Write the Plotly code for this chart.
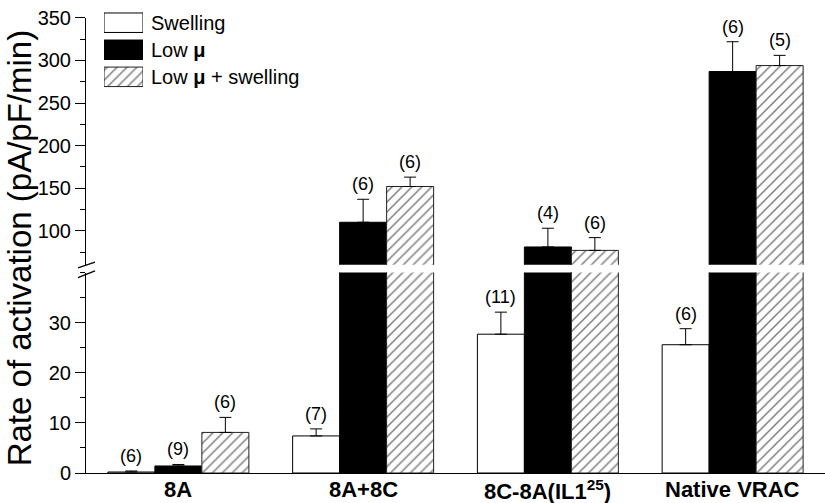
import plotly.graph_objects as go

categories = ["8A", "8A+8C", "8C-8A(IL1<sup>25</sup>)", "Native VRAC"]
series_names = ["Swelling", "Low μ", "Low μ + swelling"]
swelling = [0.2, 7.4, 27.7, 25.6]
swelling_err = [0.2, 1.4, 4.4, 3.2]
low_mu = [1.4, 110, 81, 287]
low_mu_err = [0.3, 27, 22, 35]
low_mu_sw = [8.1, 152, 77, 294]
low_mu_sw_err = [3.0, 11, 15, 12]
n_swelling = [6, 7, 11, 6]
n_low_mu = [9, 6, 4, 6]
n_low_mu_sw = [6, 6, 6, 5]
lower_ticks = [0, 10, 20, 30]
upper_ticks = [100, 150, 200, 250, 300, 350]

FONT = "Arial, 'Liberation Sans', sans-serif"
W, H = 825, 503
ML, MR, MT, MB = 86, 0, 0, 30
PW, PH = W - ML - MR, H - MT - MB


def px_y(py):
    return (H - MB - py) / PH


def px_x(pxv):
    return (pxv - ML) / PW


xs = list(range(len(categories)))
values = [swelling, low_mu, low_mu_sw]
errs = [swelling_err, low_mu_err, low_mu_sw_err]
ns = [n_swelling, n_low_mu, n_low_mu_sw]

styles = [
    dict(color="white", line=dict(color="black", width=1)),
    dict(color="black", line=dict(color="black", width=1)),
    dict(color="white", line=dict(color="#222", width=1),
         pattern=dict(shape="/", size=7, solidity=0.22, fgcolor="black", bgcolor="white")),
]

fig = go.Figure()
for yax, xax in [("y", "x"), ("y2", "x2")]:
    for k in range(3):
        fig.add_trace(go.Bar(
            x=xs, y=values[k], xaxis=xax, yaxis=yax, name=series_names[k],
            marker=styles[k], showlegend=False,
            error_y=dict(type="data", symmetric=False, array=errs[k],
                         arrayminus=[0] * len(xs), color="black", thickness=1, width=6),
        ))

# legend swatches
for k in range(3):
    fig.add_trace(go.Bar(
        x=[1], y=[k], orientation="h", width=0.72, xaxis="x3", yaxis="y3",
        marker=styles[k], showlegend=False, hoverinfo="skip",
    ))

bargap = 0.237
bw = (1 - bargap) / 3
annotations = []
for k in range(3):
    for i in xs:
        top = values[k][i] + errs[k][i]
        yref = "y" if top <= 40 else "y2"
        annotations.append(dict(
            x=i + (k - 1) * bw, y=top, xref="x" if yref == "y" else "x2", yref=yref,
            text=f"({ns[k][i]})", showarrow=False, yanchor="bottom", yshift=3,
            font=dict(size=18, color="black", family=FONT),
        ))

# category labels
for i, c in zip(xs, categories):
    annotations.append(dict(
        x=i, y=px_y(490), xref="x", yref="paper", text=f"<b>{c}</b>",
        showarrow=False, xanchor="center", yanchor="middle",
        font=dict(size=22, color="black", family=FONT),
    ))

legend_rows = [12, 39.7, 67.4]
legend_labels = ["Swelling", "Low <b>μ</b>", "Low <b>μ</b> + swelling"]
for lab, ry in zip(legend_labels, legend_rows):
    annotations.append(dict(
        x=px_x(149), y=px_y(ry), xref="paper", yref="paper", text=lab,
        showarrow=False, xanchor="left", yanchor="middle",
        font=dict(size=20, color="black", family=FONT),
    ))

annotations.append(dict(
    x=px_x(19), y=px_y(243), xref="paper", yref="paper",
    text="Rate of activation (pA/pF/min)", textangle=-90, showarrow=False,
    xanchor="center", yanchor="middle", font=dict(size=33, color="black", family=FONT),
))

shapes = []
for (x0, y0, x1, y1) in [(78, 263, 95, 257), (78, 273, 95, 266)]:
    shapes.append(dict(type="line", xref="paper", yref="paper",
                       x0=px_x(x0), y0=px_y(y0), x1=px_x(x1), y1=px_y(y1),
                       line=dict(color="black", width=1.3)))

lower_top_px = 267.8
upper_bot_px = 259.9
fig.update_layout(
    width=W, height=H, margin=dict(l=ML, r=MR, t=MT, b=MB),
    paper_bgcolor="white", plot_bgcolor="rgba(0,0,0,0)",
    barmode="group", bargap=bargap, bargroupgap=0,
    font=dict(family=FONT, color="black"),
    xaxis=dict(domain=[0, 1], range=[-0.5, 3.5], tickvals=xs, showticklabels=False,
               showline=True, linecolor="black", linewidth=1, ticks="",
               showgrid=False, zeroline=False, anchor="y", fixedrange=True),
    xaxis2=dict(domain=[0, 1], range=[-0.5, 3.5], matches="x", visible=False, anchor="y2"),
    yaxis=dict(domain=[0, px_y(lower_top_px)], range=[0, 40], tickvals=lower_ticks,
               ticks="outside", ticklen=10, tickwidth=1, tickcolor="black",
               minor=dict(dtick=5, tick0=0, ticks="outside", ticklen=5, tickcolor="black", tickwidth=1),
               showline=True, linecolor="black", linewidth=1, showgrid=False, zeroline=False,
               tickfont=dict(size=20, family=FONT, color="black"), anchor="x"),
    yaxis2=dict(domain=[px_y(upper_bot_px), px_y(7)], range=[60, 350.05], tickvals=upper_ticks,
                ticks="outside", ticklen=10, tickwidth=1, tickcolor="black",
                ticklabeloverflow="allow",
                minor=dict(dtick=25, tick0=0, ticks="outside", ticklen=5, tickcolor="black", tickwidth=1),
                showline=True, linecolor="black", linewidth=1, showgrid=False, zeroline=False,
                tickfont=dict(size=20, family=FONT, color="black"), anchor="x2"),
    xaxis3=dict(domain=[px_x(104), px_x(143)], range=[0, 1], visible=False, anchor="y3"),
    yaxis3=dict(domain=[px_y(80), 1], range=[2.455, -0.433], visible=False, anchor="x3"),
    annotations=annotations, shapes=shapes,
)

fig.write_html("out.html", config={"displayModeBar": False},
               post_script="document.body.style.margin='0';document.body.style.overflow='hidden';")
